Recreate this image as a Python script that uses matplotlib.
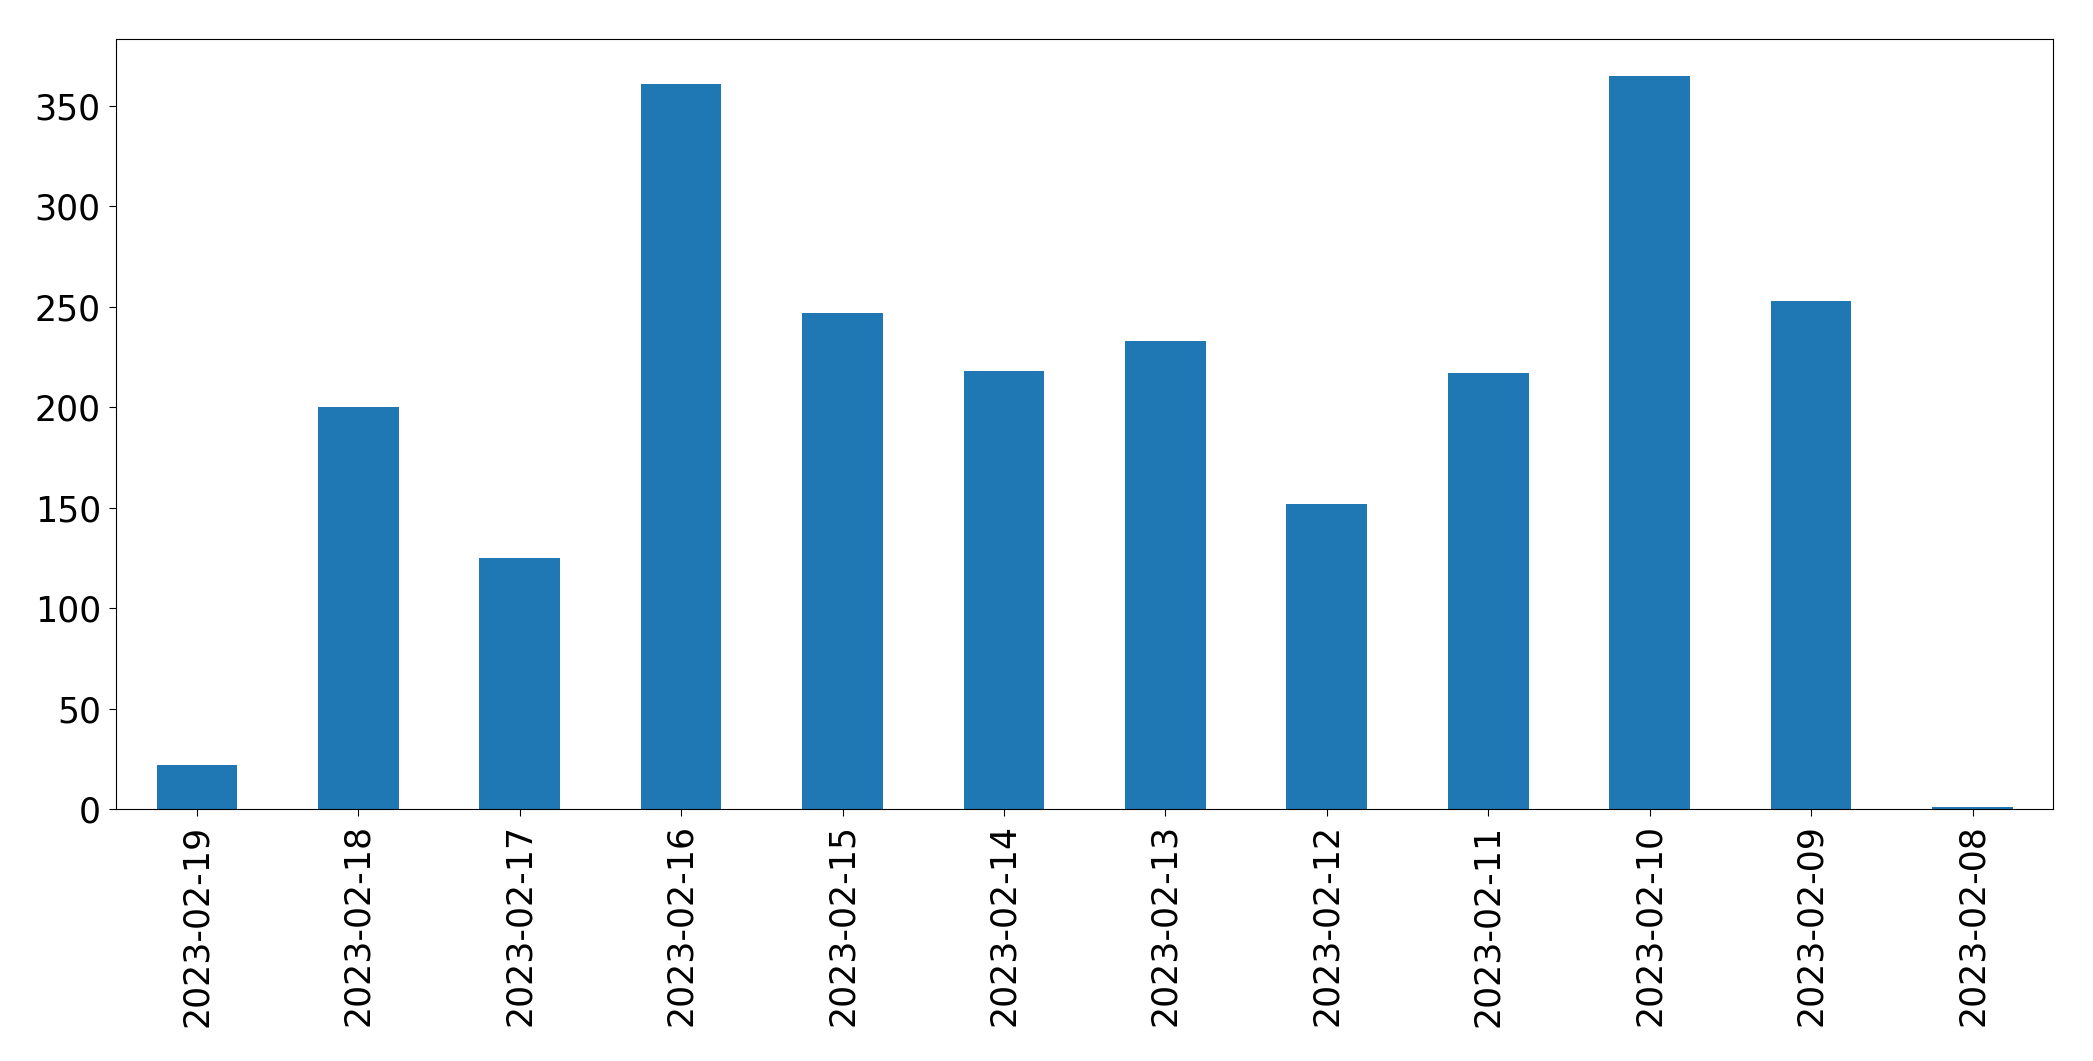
import numpy as np
import matplotlib
matplotlib.use("Agg")
import matplotlib.pyplot as plt

# Données
dates = ["2023-02-19", "2023-02-18", "2023-02-17", "2023-02-16", "2023-02-15", "2023-02-14",
         "2023-02-13", "2023-02-12", "2023-02-11", "2023-02-10", "2023-02-09", "2023-02-08"]
valeurs = [22, 200, 125, 361, 247, 218, 233, 152, 217, 365, 253, 1]

plt.rcParams['font.size'] = 25

fig, ax = plt.subplots(figsize=(20.93, 10.61), dpi=100)
x = np.arange(len(dates))
ax.bar(x, valeurs, width=0.5, color="#1f77b4")
ax.set_xticks(x)
ax.set_xticklabels(dates, rotation=90)
ax.set_xlim(-0.5, len(dates) - 0.5)
ax.set_yticks(np.arange(0, 351, 50))
ax.tick_params(length=5, pad=6)

fig.subplots_adjust(left=0.0555, right=0.981, top=0.963, bottom=0.2375)
fig.savefig("out.png", dpi=100)
